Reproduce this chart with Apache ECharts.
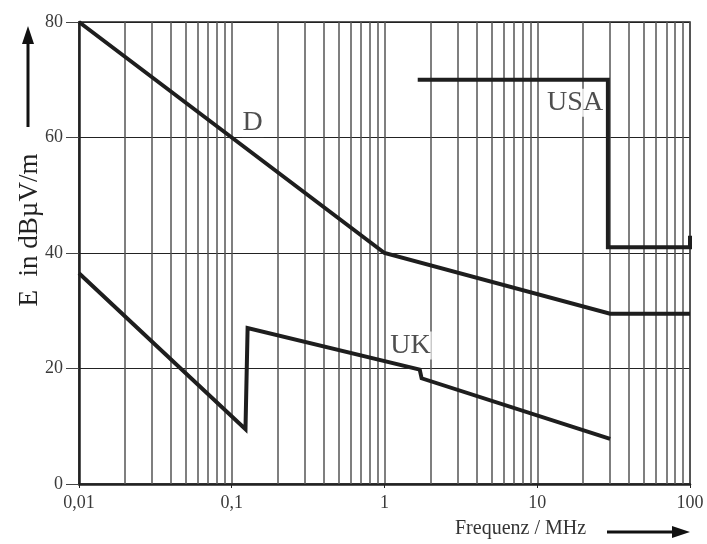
<!DOCTYPE html>
<html><head><meta charset="utf-8">
<script src="https://cdn.jsdelivr.net/npm/echarts@6/dist/echarts.min.js"></script>
<style>html,body{margin:0;padding:0;background:#fff}#c{width:707px;height:544px}</style>
</head><body><div id="c"></div>
<script>
// Limit curves [frequency MHz, field strength dBµV/m]
const curveD = [[0.01, 80], [1, 40], [30, 29.5], [100, 29.5]];
const curveUK = [[0.01, 36.5], [0.123, 9.5], [0.127, 27], [1.7, 19.8], [1.75, 18.3], [30, 7.8]];
const curveUSA = [[1.65, 70], [29, 70], [29, 41], [100, 41], [100, 43]];
const curveLabels = [[0.137, 62.5, 'D'], [1.48, 24, 'UK'], [17.7, 66, 'USA']];
const xTickLabels = {0.01: '0,01', 0.1: '0,1', 1: '1', 10: '10', 100: '100'};
const yTicks = [0, 20, 40, 60, 80];
const decades = [0.01, 0.1, 1, 10];
const multipliers = [2, 3, 4, 5, 6, 7, 8, 9];

const minorX = [];
decades.forEach(d => multipliers.forEach(m => minorX.push(+(d * m).toPrecision(3))));

const serif = '"Liberation Serif","DejaVu Serif",serif';
const ink = '#1e1e1e';
const lineStyle = {color: ink, width: 4, join: 'miter'};

const chart = echarts.init(document.getElementById('c'));
chart.setOption({
  animation: false,
  grid: {left: 79, right: 17, top: 22, bottom: 60, show: true, borderColor: '#222', borderWidth: 1.5},
  xAxis: {
    type: 'log', min: 0.01, max: 100, logBase: 10,
    axisLine: {lineStyle: {color: '#222', width: 2.5}},
    axisTick: {show: true, length: 4, lineStyle: {color: '#222'}},
    axisLabel: {color: '#3a3a3a', fontFamily: serif, fontSize: 18, margin: 10,
      formatter: v => xTickLabels[+v.toPrecision(3)] || ''},
    splitLine: {show: true, lineStyle: {color: '#555', width: 1.5}}
  },
  yAxis: {
    type: 'value', min: 0, max: 80, interval: 20,
    axisLine: {show: true, lineStyle: {color: '#222', width: 2.5}},
    axisTick: {show: true, length: 13, lineStyle: {color: '#444', width: 1}},
    axisLabel: {color: '#3a3a3a', fontFamily: serif, fontSize: 18, margin: 16,
      formatter: v => yTicks.includes(v) ? String(v) : ''},
    splitLine: {show: true, lineStyle: {color: '#222', width: 1.2}}
  },
  series: [
    {type: 'line', data: [], silent: true,
      markLine: {silent: true, symbol: 'none', label: {show: false},
        lineStyle: {color: '#555', width: 1.5, type: 'solid'},
        data: minorX.map(x => ({xAxis: x}))}},
    {type: 'line', data: curveD, showSymbol: false, lineStyle: lineStyle, z: 5},
    {type: 'line', data: curveUK, showSymbol: false, lineStyle: lineStyle, z: 5},
    {type: 'line', data: curveUSA, showSymbol: false, lineStyle: lineStyle, z: 5},
    {type: 'scatter', data: curveLabels, symbolSize: 0, z: 6,
      label: {show: true, position: 'inside', formatter: p => p.data[2],
        fontFamily: serif, fontSize: 28, color: '#222',
        backgroundColor: '#fff', padding: [0, 1]}}
  ],
  graphic: [
    {type: 'text', left: 455, top: 519, style: {text: 'Frequenz / MHz', font: '20px ' + serif, fill: '#333'}},
    {type: 'line', shape: {x1: 607, y1: 532, x2: 676, y2: 532}, style: {stroke: '#111', lineWidth: 3}},
    {type: 'polygon', shape: {points: [[690, 532], [672, 526], [672, 538]]}, style: {fill: '#111'}},
    {type: 'text', x: 30, y: 230, rotation: Math.PI / 2, style: {text: 'E  in dBµV/m', font: '27px ' + serif, fill: '#222', align: 'center', verticalAlign: 'middle'}},
    {type: 'line', shape: {x1: 28, y1: 127, x2: 28, y2: 40}, style: {stroke: '#111', lineWidth: 3}},
    {type: 'polygon', shape: {points: [[28, 26], [22, 44], [34, 44]]}, style: {fill: '#111'}}
  ]
});
</script></body></html>
